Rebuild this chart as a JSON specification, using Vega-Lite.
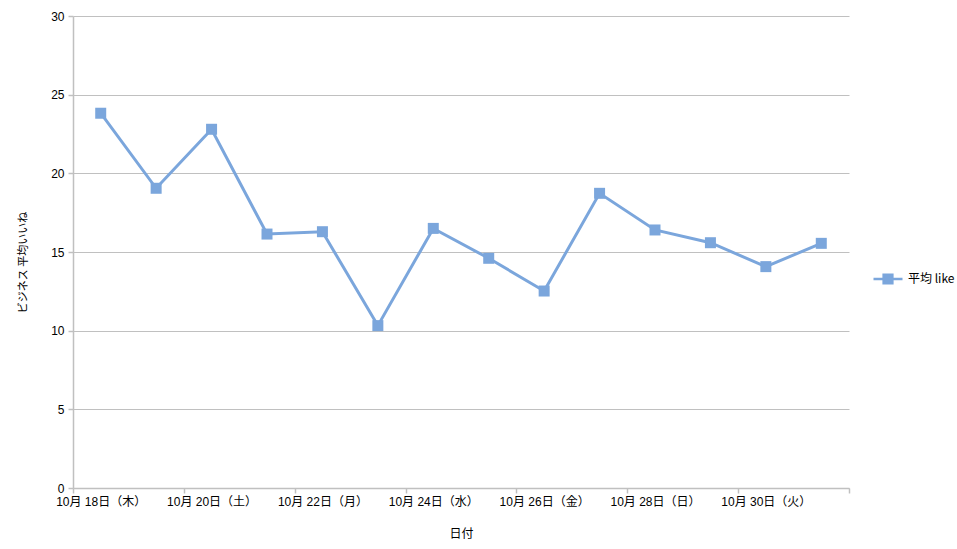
{
  "$schema": "https://vega.github.io/schema/vega-lite/v6.json",
  "autosize": "none",
  "width": 776,
  "height": 472,
  "padding": {"left": 73, "top": 16, "right": 108, "bottom": 61},
  "background": "white",
  "config": {
    "font": "Liberation Sans, Noto Sans CJK JP",
    "view": {"stroke": null}
  },
  "data": {
    "values": [
      {"day": 18, "series": "平均 like", "value": 23.82},
      {"day": 19, "series": "平均 like", "value": 19.05},
      {"day": 20, "series": "平均 like", "value": 22.80},
      {"day": 21, "series": "平均 like", "value": 16.14},
      {"day": 22, "series": "平均 like", "value": 16.29},
      {"day": 23, "series": "平均 like", "value": 10.32},
      {"day": 24, "series": "平均 like", "value": 16.50},
      {"day": 25, "series": "平均 like", "value": 14.60},
      {"day": 26, "series": "平均 like", "value": 12.52},
      {"day": 27, "series": "平均 like", "value": 18.73},
      {"day": 28, "series": "平均 like", "value": 16.40},
      {"day": 29, "series": "平均 like", "value": 15.59},
      {"day": 30, "series": "平均 like", "value": 14.07},
      {"day": 31, "series": "平均 like", "value": 15.55}
    ]
  },
  "encoding": {
    "x": {
      "field": "day",
      "type": "quantitative",
      "scale": {"domain": [17.5, 31.5], "nice": false, "zero": false},
      "axis": {
        "title": "日付",
        "titleFont": "Noto Sans CJK JP",
        "titleFontSize": 12,
        "titleFontWeight": "normal",
        "titleColor": "black",
        "titlePadding": 21,
        "values": [17.5, 19.5, 21.5, 23.5, 25.5, 27.5, 29.5, 31.5],
        "labelExpr": "{'17.5': '10月 18日（木）', '19.5': '10月 20日（土）', '21.5': '10月 22日（月）', '23.5': '10月 24日（水）', '25.5': '10月 26日（金）', '27.5': '10月 28日（日）', '29.5': '10月 30日（火）', '31.5': ''}[toString(datum.value)]",
        "labelOffset": 27.7,
        "labelFontSize": 12,
        "labelColor": "black",
        "labelPadding": 3,
        "labelOverlap": false,
        "labelFlush": false,
        "grid": false,
        "domainColor": "#c0c0c0",
        "domainWidth": 1.5,
        "tickColor": "#c0c0c0",
        "tickSize": 5,
        "tickWidth": 1.5
      }
    },
    "y": {
      "field": "value",
      "type": "quantitative",
      "scale": {"domain": [0, 30], "nice": false},
      "axis": {
        "title": "ビジネス 平均いいね",
        "titleFont": "Noto Sans CJK JP",
        "titleFontSize": 11,
        "titleFontWeight": "normal",
        "titleColor": "black",
        "titlePadding": 22,
        "titleY": 246,
        "values": [0, 5, 10, 15, 20, 25, 30],
        "labelFontSize": 12,
        "labelColor": "black",
        "labelPadding": 4,
        "labelFlush": false,
        "grid": true,
        "gridColor": "#c0c0c0",
        "gridWidth": 1,
        "domainColor": "#c0c0c0",
        "domainWidth": 1.5,
        "tickColor": "#c0c0c0",
        "tickSize": 5,
        "tickWidth": 1.5
      }
    }
  },
  "layer": [
    {
      "mark": {"type": "line", "color": "#7ba6dc", "strokeWidth": 3},
      "encoding": {}
    },
    {
      "mark": {"type": "point", "shape": "square", "filled": true, "size": 121, "opacity": 1},
      "encoding": {
        "color": {
          "field": "series",
          "type": "nominal",
          "scale": {"range": ["#7ba6dc"]},
          "legend": {
            "title": null,
            "orient": "none",
            "legendX": 799,
            "legendY": 247,
            "padding": 0,
            "symbolType": "M-1,0L1,0M-0.3,-0.3L0.3,-0.3L0.3,0.3L-0.3,0.3Z",
            "symbolSize": 841,
            "symbolStrokeWidth": 2.5,
            "symbolStrokeColor": "#7ba6dc",
            "symbolFillColor": "#7ba6dc",
            "symbolOpacity": 1,
            "labelFont": "Noto Sans CJK JP",
            "labelFontSize": 12,
            "labelColor": "black",
            "labelOffset": 4
          }
        }
      }
    }
  ]
}
